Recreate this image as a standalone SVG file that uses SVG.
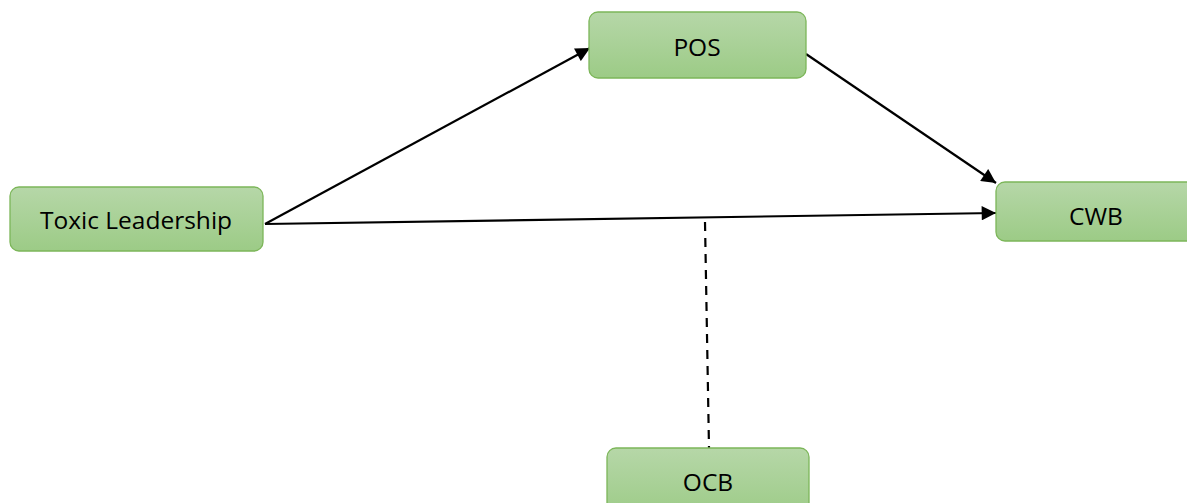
<svg xmlns="http://www.w3.org/2000/svg" width="1187" height="503" viewBox="0 0 1187 503">
<style>
.node rect{fill:url(#g);stroke:#7cb659;stroke-width:1.3}
.node text{font-family:"Open Sans","Liberation Sans",sans-serif;font-size:24.5px;fill:#000;text-anchor:middle;dominant-baseline:central}
.conn{stroke:#000;stroke-width:2.2;fill:none}
</style>
<defs>
<linearGradient id="g" x1="0" y1="0" x2="0" y2="1">
<stop offset="0" stop-color="#b6d7a8"/>
<stop offset="1" stop-color="#9ccb86"/>
</linearGradient>
<marker id="ah" viewBox="0 0 10 10" refX="10" refY="5" markerWidth="7" markerHeight="6.5" markerUnits="strokeWidth" orient="auto">
<path d="M0,0 L10,5 L0,10 z" fill="#000"/>
</marker>
</defs>
<rect width="1187" height="503" fill="#fff"/>
<g id="connectors">
<line class="conn" x1="265" y1="224" x2="590" y2="48" marker-end="url(#ah)"/>
<line class="conn" x1="806" y1="54" x2="996" y2="183" marker-end="url(#ah)"/>
<line class="conn" x1="265" y1="224" x2="996" y2="213" marker-end="url(#ah)"/>
<line class="conn" x1="705" y1="222" x2="709" y2="448" stroke-dasharray="9,7"/>
</g>
<g id="toxic" class="node">
<rect x="10" y="187" width="253" height="64" rx="9"/>
<text x="136" y="219">Toxic Leadership</text>
</g>
<g id="pos" class="node">
<rect x="589" y="12" width="217" height="66" rx="9"/>
<text x="697" y="46">POS</text>
</g>
<g id="cwb" class="node">
<rect x="996" y="182" width="205" height="59" rx="9"/>
<text x="1096" y="215">CWB</text>
</g>
<g id="ocb" class="node">
<rect x="607" y="448" width="202" height="70" rx="9"/>
<text x="708" y="481">OCB</text>
</g>
</svg>
